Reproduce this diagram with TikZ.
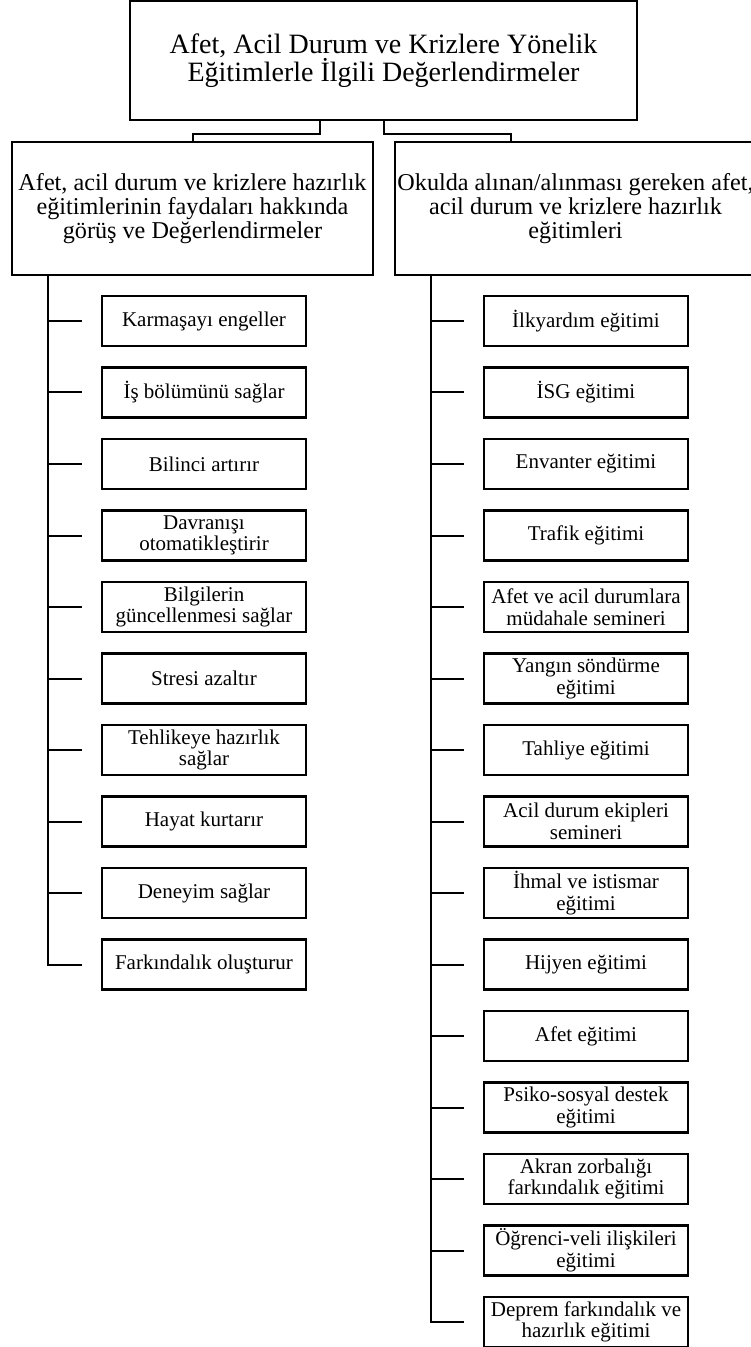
\documentclass[tikz,border=0pt]{standalone}
\usepackage{fontspec}
\setmainfont{Liberation Serif}
\usetikzlibrary{calc}

\begin{document}
\begin{tikzpicture}[
x=0.5pt,
y=-0.5pt,
box/.style={
  draw,
  line width=1.1pt,
  align=center,
  inner sep=0pt
  },
head/.style={
  box,
  minimum width=253.5pt,
  minimum height=59.5pt,
  font=\fontsize{14}{14}\selectfont
  },
group/.style={
  box,
  minimum width=180.5pt,
  minimum height=66.5pt,
  font=\fontsize{12.1}{12}\selectfont
  },
item/.style={
  box,
  minimum width=102pt,
  minimum height=25pt,
  font=\fontsize{10.5}{10.85}\selectfont
  },
link/.style={
  line width=1pt
  }
]
\useasboundingbox (0,0) rectangle (750,1347);
\node[head] (head) at (383.5,60.5) {Afet, Acil Durum ve Krizlere Yönelik\\Eğitimlerle İlgili Değerlendirmeler};
\node[group] (fayda) at (192.5,208.5) {Afet, acil durum ve krizlere hazırlık\\eğitimlerinin faydaları hakkında\\görüş ve Değerlendirmeler};
\node[group] (okul) at (575.5,208.5) {Okulda alınan/alınması gereken afet,\\acil durum ve krizlere hazırlık\\eğitimleri};
\draw[link] ($(head.south)+(-63.5,0)$) -- ++(0,13) -| (fayda.north);
\draw[link] (head.south) -- ++(0,13) -| ($(okul.north)+(-64.5,0)$);
% left column
\foreach \txt [count=\i] in {Karmaşayı engeller, İş bölümünü sağlar, Bilinci artırır,
  Davranışı\\otomatikleştirir, Bilgilerin\\güncellenmesi sağlar, Stresi azaltır,
  Tehlikeye hazırlık\\sağlar, Hayat kurtarır, Deneyim sağlar, Farkındalık oluşturur}
  \node[item] (fayda-\i) at (204,{321+71.5*(\i-1)}) {\txt};
\draw[link] ($(fayda.south west)+(37,0)$) |- ($(fayda-10.west)+(-19,0)$);
\foreach \i in {1,...,9}
  \draw[link] ($(fayda-\i.west)+(-53,0)$) -- ($(fayda-\i.west)+(-19,0)$);
% right column
\foreach \txt [count=\i] in {İlkyardım eğitimi, İSG eğitimi, Envanter eğitimi, Trafik eğitimi,
  Afet ve acil durumlara\\müdahale semineri, Yangın söndürme\\eğitimi, Tahliye eğitimi,
  Acil durum ekipleri\\semineri, İhmal ve istismar\\eğitimi, Hijyen eğitimi, Afet eğitimi,
  Psiko-sosyal destek\\eğitimi, Akran zorbalığı\\farkındalık eğitimi,
  Öğrenci-veli ilişkileri\\eğitimi, Deprem farkındalık ve\\hazırlık eğitimi}
  \node[item] (okul-\i) at (586,{321+71.5*(\i-1)}) {\txt};
\draw[link] ($(okul.south west)+(37,0)$) |- ($(okul-15.west)+(-19,0)$);
\foreach \i in {1,...,14}
  \draw[link] ($(okul-\i.west)+(-53,0)$) -- ($(okul-\i.west)+(-19,0)$);
\end{tikzpicture}
\end{document}
